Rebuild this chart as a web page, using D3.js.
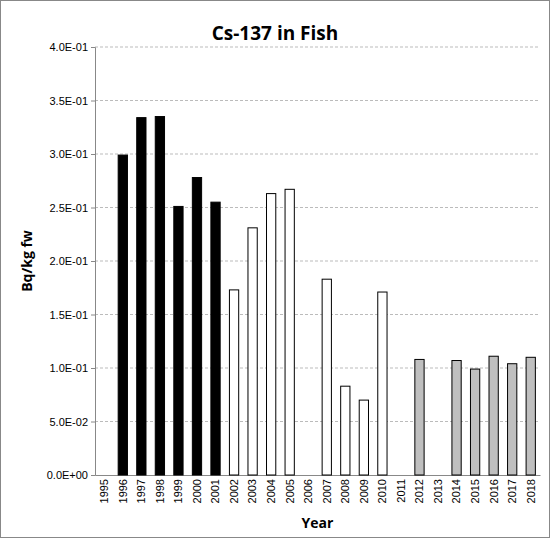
<!DOCTYPE html>
<html><head><meta charset="utf-8">
<script src="https://cdn.jsdelivr.net/npm/d3@7"></script>
<style>body{margin:0;background:#fff}svg{font-family:"Open Sans",Arial,sans-serif}</style>
</head><body><svg id="chart" width="550" height="538"></svg>
<script>
const years = d3.range(1995, 2019).map(String);
const values = [null,0.299,0.334,0.335,0.251,0.278,0.255,0.173,0.231,0.263,0.267,null,0.183,0.083,0.070,0.171,null,0.108,null,0.107,0.099,0.111,0.104,0.110];
const fills = y => +y <= 2001 ? '#000' : +y <= 2011 ? '#fff' : '#bfbfbf';
const yTicks = d3.range(0, 0.4001, 0.05);

const svg = d3.select('#chart');
const margin = { top: 47, right: 10, bottom: 63, left: 95 };
const W = 550 - margin.left - margin.right, H = 538 - margin.top - margin.bottom;

svg.append('rect').attr('x',0.5).attr('y',0.5).attr('width',549).attr('height',537)
  .attr('fill','#fff').attr('stroke','#888');

const g = svg.append('g').attr('transform',`translate(${margin.left},${margin.top})`);
const x = d3.scaleBand().domain(years).range([0,W]).paddingInner(0.5).paddingOuter(0.25);
const y = d3.scaleLinear().domain([0,0.4]).range([H,0]);

g.selectAll('.grid').data(yTicks.slice(1)).enter().append('line')
  .attr('x1',0).attr('x2',W).attr('y1',d=>y(d)).attr('y2',d=>y(d))
  .attr('stroke','#bbb').attr('stroke-dasharray','3,2');

const ya = g.append('g').call(d3.axisLeft(y).tickValues(yTicks).tickSize(4)
  .tickFormat(d => d.toExponential(1).replace('e-','E-0').replace('e+','E+0').toUpperCase()));
ya.select('.domain').attr('stroke','#888');
ya.selectAll('line').attr('stroke','#888');
ya.selectAll('text').attr('font-size',11).attr('fill','#000');

const xa = g.append('g').attr('transform',`translate(0,${H})`).call(d3.axisBottom(x).tickSize(0));
xa.select('.domain').attr('stroke','#888');
xa.selectAll('text').attr('font-size',11).attr('fill','#000')
  .attr('transform','rotate(-90)').attr('text-anchor','end').attr('dx','-4').attr('dy','0.35em')
  .attr('x',0).attr('y',0);

g.selectAll('.bar').data(years.map((d,i)=>({y:d,v:values[i]})).filter(d=>d.v!=null))
  .enter().append('rect')
  .attr('x',d=>x(d.y)).attr('width',x.bandwidth())
  .attr('y',d=>y(d.v)).attr('height',d=>H-y(d.v))
  .attr('fill',d=>fills(d.y)).attr('stroke','#000').attr('stroke-width',1);

svg.append('text').attr('x',275).attr('y',40).attr('text-anchor','middle')
  .attr('font-size',19).attr('font-weight','bold').text('Cs-137 in Fish');
svg.append('text').attr('x',margin.left+W/2).attr('y',528).attr('text-anchor','middle')
  .attr('font-size',14).attr('font-weight','bold').text('Year');
svg.append('text').attr('transform',`translate(32,${margin.top+H/2}) rotate(-90)`).attr('text-anchor','middle')
  .attr('font-size',14).attr('font-weight','bold').text('Bq/kg fw');
</script></body></html>
